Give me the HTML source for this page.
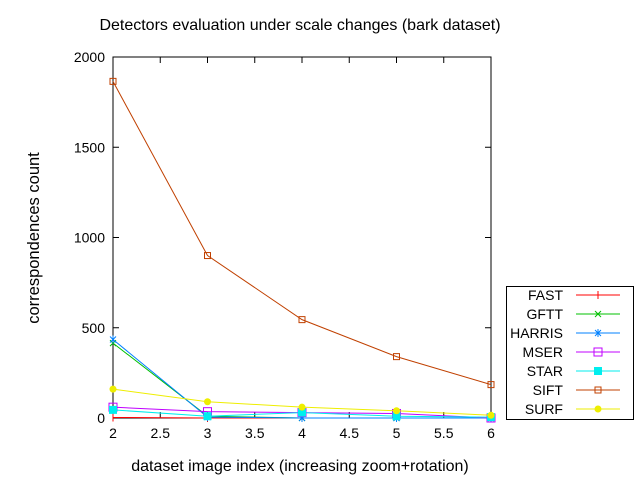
<!DOCTYPE html>
<html><head><meta charset="utf-8"><style>
body{margin:0;background:#fff;}
svg{font-family:"Liberation Sans",sans-serif;}
</style></head><body>
<svg width="640" height="480" xmlns="http://www.w3.org/2000/svg">
<rect width="640" height="480" fill="#fff"/>
<text x="300" y="30" font-size="16" text-anchor="middle">Detectors evaluation under scale changes (bark dataset)</text>
<text x="300" y="471" font-size="16" text-anchor="middle">dataset image index (increasing zoom+rotation)</text>
<text transform="translate(39,238) rotate(-90)" font-size="16.5" text-anchor="middle">correspondences count</text>
<g id="axes"></g>
<g id="series"></g>
<g id="legend"></g>
</svg>
<script>
const xTicks=[2,2.5,3,3.5,4,4.5,5,5.5,6];
const yTicks=[0,500,1000,1500,2000];
const xs=[2,3,4,5,6];
const names=["FAST","GFTT","HARRIS","MSER","STAR","SIFT","SURF"];
const colors=["#ff0000","#00c000","#0080ff","#c000ff","#00eeee","#c04000","#eeee00"];
const FAST=[3,0,0,0,0];
const GFTT=[415,10,0,0,0];
const HARRIS=[435,5,0,0,0];
const MSER=[60,35,30,25,0];
const STAR=[45,10,30,10,5];
const SIFT=[1865,900,545,340,185];
const SURF=[160,90,60,40,15];
const series=[FAST,GFTT,HARRIS,MSER,STAR,SIFT,SURF];
const X0=113,X1=491,Y0=418,Y1=57;
const sx=v=>X0+(v-2)/4*(X1-X0);
const sy=v=>Y0-v/2000*(Y0-Y1);
const NS="http://www.w3.org/2000/svg";
function mk(t,a,p){const e=document.createElementNS(NS,t);for(const k in a)e.setAttribute(k,a[k]);p.appendChild(e);return e;}
const ax=document.getElementById('axes');
const frame=mk('rect',{x:X0,y:Y1,width:X1-X0,height:Y0-Y1,fill:'none',stroke:'#000','stroke-width':1},ax);


xTicks.forEach(v=>{const x=sx(v);
mk('line',{x1:x,x2:x,y1:Y0,y2:Y0-6,stroke:'#000'},ax);mk('line',{x1:x,x2:x,y1:Y1,y2:Y1+6,stroke:'#000'},ax);
const t=mk('text',{x:x,y:Y0+20,'font-size':14,'text-anchor':'middle'},ax);t.textContent=v;

});
yTicks.forEach(v=>{const y=sy(v);
mk('line',{x1:X0,x2:X0+6,y1:y,y2:y,stroke:'#000'},ax);mk('line',{x1:X1,x2:X1-6,y1:y,y2:y,stroke:'#000'},ax);
const t=mk('text',{x:X0-8,y:y+5,'font-size':14,'text-anchor':'end'},ax);t.textContent=v;

});
function marker(i,x,y,p){const c=colors[i];
if(i==0){mk('line',{x1:x,x2:x,y1:y-4,y2:y+4,stroke:c},p);}
else if(i==1||i==2){mk('path',{d:`M${x-3},${y-3}L${x+3},${y+3}M${x-3},${y+3}L${x+3},${y-3}`+(i==2?`M${x},${y-4}V${y+4}`:''),stroke:c,fill:'none'},p);}
else if(i==3){mk('rect',{x:x-4,y:y-4,width:8,height:8,fill:'none',stroke:c},p);}
else if(i==4){mk('rect',{x:x-4,y:y-4,width:8,height:8,fill:c},p);}
else if(i==5){mk('rect',{x:x-3,y:y-3,width:6,height:6,fill:'none',stroke:c},p);}
else {mk('circle',{cx:x,cy:y,r:3.5,fill:c},p);}}
const sg=document.getElementById('series');
series.forEach((d,i)=>{const g=mk('g',{},sg);


mk('polyline',{points:d.map((v,j)=>sx(xs[j])+','+sy(v)).join(' '),fill:'none',stroke:colors[i],'stroke-width':1},g);
d.forEach((v,j)=>marker(i,sx(xs[j]),sy(v),g));});
const lg=document.getElementById('legend');
const box=mk('rect',{x:506.5,y:286.5,width:127,height:133,fill:'#fff',stroke:'#000'},lg);


names.forEach((n,i)=>{const y=295+i*19;const g=mk('g',{},lg);


const t=mk('text',{x:563,y:y+5,'font-size':14,'text-anchor':'end'},g);t.textContent=n;
mk('line',{x1:576,x2:620,y1:y,y2:y,stroke:colors[i]},g);marker(i,598,y,g);});
</script>
</body></html>
